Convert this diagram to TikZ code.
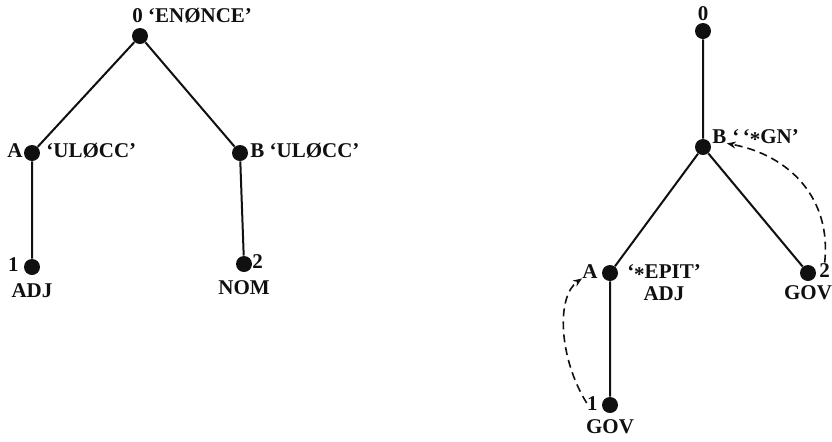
\documentclass[tikz,border=0pt]{standalone}
\usepackage{fontspec}
\setmainfont{Liberation Serif}
\usepackage{xcolor}
\definecolor{ink}{RGB}{16,16,16}
\usepackage{tikz}
\usetikzlibrary{arrows.meta,positioning}
\tikzset{
  %% Tree vertices and their tags
  vertex/.style={circle, fill=ink, inner sep=0pt, minimum size=8pt},
  treetag/.style={font=\fontsize{10.5}{12}\selectfont\bfseries, text=ink,
                  inner sep=0pt, text height=7pt, text depth=0pt},
  %% Branches and dependency arcs
  branch/.style={draw=ink, line width=1pt},
  deparc/.style={draw=ink, line width=0.8pt, dash pattern=on 4pt off 2.5pt,
                 -{Stealth[length=4.5pt,width=3.5pt]}},
}
\newcommand{\lowstar}{\raisebox{-0.35ex}{*}}

\begin{document}
\begin{tikzpicture}[x=0.5pt, y=-0.5pt]
\useasboundingbox[fill=white] (0,0) rectangle (832,441);

%% constituent tree
\node[vertex] (u0) at (140,36) {};
\node[vertex] (uA) at (32,153) {};
\node[vertex] (uB) at (240,153) {};
\node[vertex] (u1) at (32,267) {};
\node[vertex] (u2) at (244,264) {};
\draw[branch] (u0) -- (uA) (u0) -- (uB) (uA) -- (u1) (uB) -- (u2);

\node[treetag, anchor=base west] (u0t) at (132,22) {0 ‘ENØNCE’};
\node[treetag, anchor=base east] (uAt) at (23,157) {A};
\node[treetag, anchor=base west] (uAq) at (46,157) {‘ULØCC’};
\node[treetag, anchor=base west] (uBt) at (250,157) {B ‘ULØCC’};
\node[treetag, anchor=base east] (u1t) at (19,271) {1};
\node[treetag, anchor=base west] (u2t) at (252,268) {2};
\node[treetag, below=4pt of u1] (u1c) {ADJ};
\node[treetag, below=4pt of u2] (u2c) {NOM};

%% dependency tree
\node[vertex] (g0) at (703,31) {};
\node[vertex] (gB) at (703,147) {};
\node[vertex] (gA) at (610,273) {};
\node[vertex] (g1) at (610,405) {};
\node[vertex] (g2) at (808,273) {};
\draw[branch] (g0) -- (gB) (gB) -- (gA) (gB) -- (g2) (gA) -- (g1);

\node[treetag, anchor=base] (g0t) at (703,20) {0};
\node[treetag, anchor=base west] (gBt) at (712,143) {B};
\node[treetag, anchor=base west] (gBq) at (732,143) {‘\,‘\lowstar GN’};
\node[treetag, anchor=base east] (gAt) at (598,278) {A};
\node[treetag, anchor=base] (gAq) at (664,278) {‘\lowstar EPIT’};
\node[treetag, below=4pt of gAq] (gAc) {ADJ};
\node[treetag, anchor=base east] (g1t) at (598,410) {1};
\node[treetag, anchor=base west] (g2t) at (819,277) {2};
\node[treetag, below=3pt of g1] (g1c) {GOV};
\node[treetag, below=2pt of g2] (g2c) {GOV};

%% government arcs
\draw[deparc] (g1t.west) .. controls +(-28,-45) and +(-26,18) .. (gAt.south west);
\draw[deparc] (g2t.north) .. controls +(7,-63) and +(64,12) .. (gBt.south east);
\end{tikzpicture}
\end{document}
